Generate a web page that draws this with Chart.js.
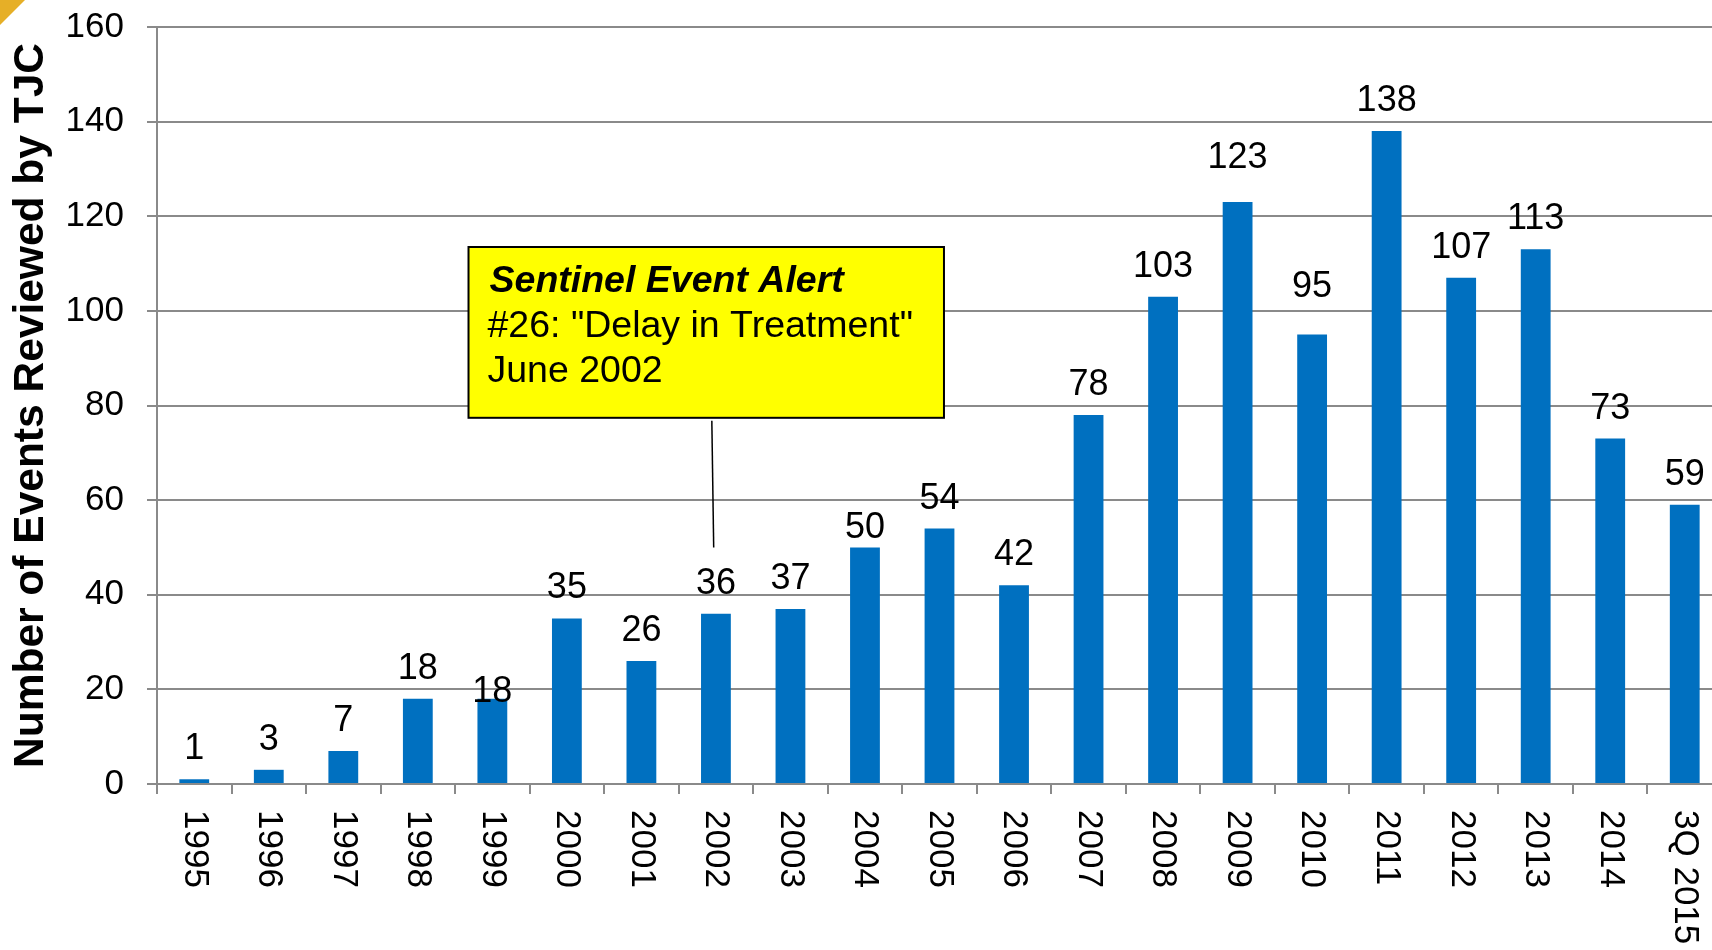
<!DOCTYPE html>
<html>
<head>
<meta charset="utf-8">
<script src="https://cdn.jsdelivr.net/npm/chart.js@4/dist/chart.umd.min.js"></script>
<style>
  html, body { margin: 0; padding: 0; background: #ffffff; overflow: hidden; }
  #wrap { position: relative; width: 1712px; height: 950px; overflow: hidden; }
  #c { position: absolute; left: 0; top: 0; }
  #corner { position: absolute; left: 0; top: 0; width: 25px; height: 25px; background: #E6AF27;
            clip-path: polygon(0 0, 100% 0, 0 100%); }
</style>
</head>
<body>
<div id="wrap">
  <canvas id="c" width="1722" height="950"></canvas>
  <div id="corner"></div>
</div>
<script>
// ---- Data ----
const categories = ['1995','1996','1997','1998','1999','2000','2001','2002','2003','2004','2005','2006','2007','2008','2009','2010','2011','2012','2013','2014','3Q 2015'];
const eventCounts = [1, 3, 7, 18, 18, 35, 26, 36, 37, 50, 54, 42, 78, 103, 123, 95, 138, 107, 113, 73, 59];
const yTitle = 'Number of Events Reviewed by TJC';
const yMin = 0;
const yMax = 160;
const yStep = 20;

// Annotation (callout) text and anchoring in data terms
const calloutTitle = 'Sentinel Event Alert';
const calloutLines = ['#26: "Delay in Treatment"', 'June 2002'];
const calloutCategory = '2002';
const calloutBoxX = [3.68, 10.06];    // category-index range of the box
const calloutBoxY = [113.5, 77.4];    // value range of the box (top, bottom)
const calloutPointValue = 50;         // where the leader line ends

const FONT = "'Liberation Sans', Arial, sans-serif";
const GRID = '#8a8a8a';
const BAR = '#0070C0';
// a few value labels in the source sit off their usual spot (pixels, + = down)
const LABEL_NUDGE = { '1999': 23, '2004': 11, '2009': -14, '2010': -18 };

const valueLabels = {
  id: 'valueLabels',
  afterDatasetsDraw(chart) {
    const ctx = chart.ctx;
    const meta = chart.getDatasetMeta(0);
    ctx.save();
    ctx.font = '36px ' + FONT;
    ctx.fillStyle = '#000';
    ctx.textAlign = 'center';
    ctx.textBaseline = 'alphabetic';
    meta.data.forEach((bar, i) => {
      const shift = LABEL_NUDGE[categories[i]] || 0;
      ctx.fillText(String(eventCounts[i]), bar.x, bar.y - 20 + shift);
    });
    ctx.restore();
  }
};

const xLabels = {
  id: 'xLabels',
  afterDraw(chart) {
    const ctx = chart.ctx;
    const xs = chart.scales.x;
    ctx.save();
    ctx.font = '35px ' + FONT;
    ctx.fillStyle = '#000';
    ctx.textAlign = 'left';
    ctx.textBaseline = 'middle';
    categories.forEach((lab, i) => {
      const x = xs.getPixelForValue(i);
      ctx.save();
      ctx.translate(x, xs.top + 26);
      ctx.rotate(Math.PI / 2);
      ctx.fillText(lab, 0, 0);
      ctx.restore();
    });
    ctx.restore();
  }
};

const callout = {
  id: 'callout',
  afterDraw(chart) {
    const ctx = chart.ctx;
    const xs = chart.scales.x, ys = chart.scales.y;
    const left = xs.getPixelForValue(calloutBoxX[0]);
    const right = xs.getPixelForValue(calloutBoxX[1]);
    const top = ys.getPixelForValue(calloutBoxY[0]);
    const bottom = ys.getPixelForValue(calloutBoxY[1]);
    const ci = categories.indexOf(calloutCategory);
    ctx.save();
    // leader line
    ctx.strokeStyle = '#000';
    ctx.lineWidth = 1.5;
    ctx.beginPath();
    ctx.moveTo(xs.getPixelForValue(ci - 0.055), bottom + 3);
    ctx.lineTo(xs.getPixelForValue(ci - 0.03), ys.getPixelForValue(calloutPointValue));
    ctx.stroke();
    // box
    ctx.fillStyle = '#FFFF00';
    ctx.fillRect(left, top, right - left, bottom - top);
    ctx.lineWidth = 2;
    ctx.strokeStyle = '#000';
    ctx.strokeRect(left, top, right - left, bottom - top);
    // text
    ctx.fillStyle = '#000';
    ctx.textAlign = 'left';
    ctx.textBaseline = 'alphabetic';
    ctx.font = 'italic bold 37.5px ' + FONT;
    ctx.fillText(calloutTitle, left + 21, top + 45);
    ctx.font = '37.5px ' + FONT;
    calloutLines.forEach((t, k) => ctx.fillText(t, left + 19, top + 90 + 45 * k));
    ctx.restore();
  }
};

new Chart(document.getElementById('c'), {
  type: 'bar',
  data: {
    labels: categories,
    datasets: [{
      data: eventCounts,
      backgroundColor: BAR,
      borderWidth: 0,
      barPercentage: 0.4,
      categoryPercentage: 1.0
    }]
  },
  options: {
    responsive: false,
    animation: false,
    devicePixelRatio: 1,
    layout: { padding: { left: 0, top: 27, right: 0, bottom: 0 } },
    plugins: { legend: { display: false }, tooltip: { enabled: false } },
    scales: {
      x: {
        type: 'category',
        offset: true,
        grid: { display: true, drawOnChartArea: false, drawTicks: true, tickLength: 10, color: GRID, lineWidth: 2, offset: true },
        border: { display: true, color: GRID, width: 2 },
        ticks: { display: false },
        afterFit(s) { s.height = 166; }
      },
      y: {
        min: yMin,
        max: yMax,
        grid: { color: GRID, lineWidth: 2, drawTicks: true, tickLength: 10 },
        border: { display: true, color: GRID, width: 2 },
        ticks: { stepSize: yStep, color: '#000', font: { family: FONT, size: 35, lineHeight: 0.1 }, padding: 23 },
        title: { display: true, text: yTitle, color: '#000', font: { family: FONT, size: 42.5, weight: 'bold' }, padding: { top: 6, bottom: 0 } },
        afterFit(s) { s.width = 157; }
      }
    }
  },
  plugins: [valueLabels, xLabels, callout]
});
</script>
</body>
</html>
